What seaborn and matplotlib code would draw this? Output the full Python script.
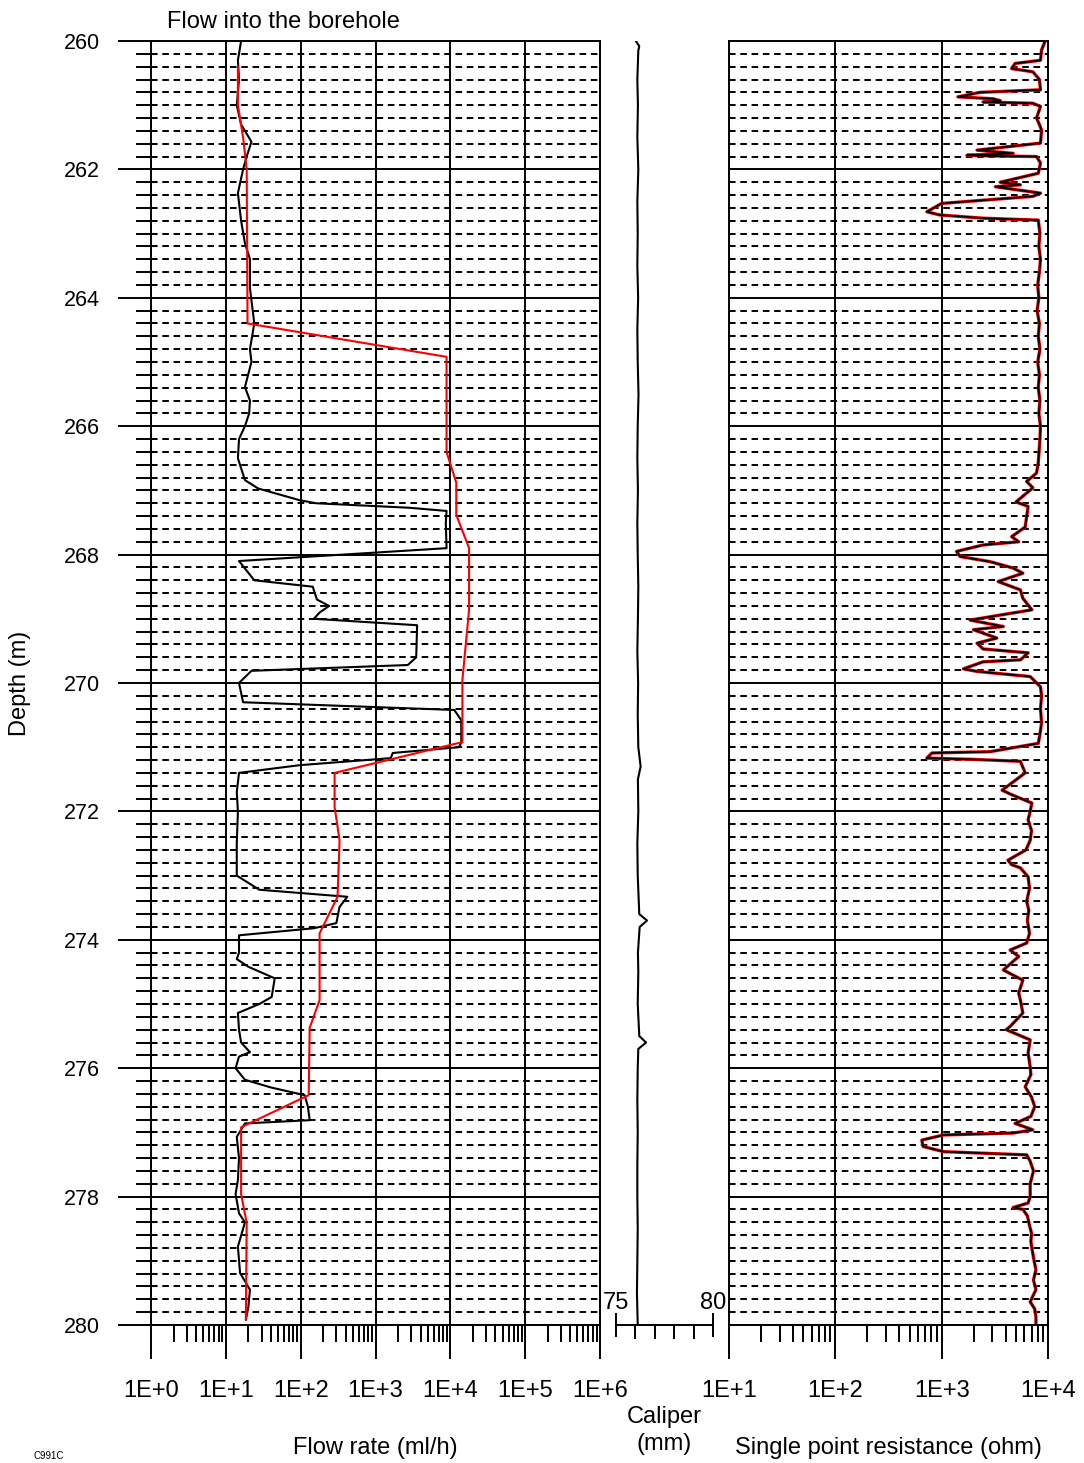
import numpy as np
import matplotlib
matplotlib.use('Agg')
import matplotlib.pyplot as plt
import matplotlib.ticker as mticker
import seaborn as sns

# --- measured flow into the borehole (black) ---
flow_depth = [260.0, 260.3, 260.6, 261.0, 261.3, 261.57, 261.8, 262.0, 262.37, 262.8,
              263.15, 263.4, 263.85, 264.4, 264.8, 265.0, 265.39, 265.6, 265.8, 266.0,
              266.2, 266.5, 266.84, 266.97, 267.15, 267.2, 267.27, 267.32, 267.5, 267.9,
              268.1, 268.4, 268.5, 268.7, 268.8, 268.9, 269.0, 269.1, 269.6, 269.72,
              269.81, 270.0, 270.3, 270.42, 270.58, 270.93, 271.0, 271.09, 271.17, 271.28,
              271.4, 271.7, 272.0, 272.5, 273.0, 273.22, 273.33, 273.49, 273.74, 273.82,
              273.93, 274.2, 274.3, 274.42, 274.6, 274.89, 275.0, 275.14, 275.4, 275.6,
              275.75, 275.82, 276.0, 276.18, 276.3, 276.42, 276.6, 276.81, 276.86, 277.07,
              277.4, 277.74, 277.96, 278.26, 278.4, 278.78, 279.19, 279.45, 279.72, 279.92]
flow_rate = [16, 14.5, 15, 14, 16, 22, 19, 17, 14.5, 16,
             18, 21, 21, 24, 21, 22, 18, 21, 20.5, 18,
             15, 14.5, 18, 27, 95, 160, 2800, 8900, 8700, 8900,
             15, 24, 145, 165, 240, 180, 150, 3600, 3500, 2700,
             22, 15, 17, 11300, 14000, 14000, 13000, 1700, 1600, 97,
             15, 14, 14.5, 14, 14, 28, 420, 330, 300, 150,
             15, 15, 14, 20, 45, 41, 28, 14.5, 15, 16,
             21, 15, 13.5, 18, 40, 113, 125, 132, 18, 14,
             15, 14.5, 13.5, 15, 18, 14.5, 15.5, 21, 20, 18.5]

# --- modelled flow (red) ---
model_depth = [260.4, 261.0, 261.5, 262.0, 264.4, 264.92, 266.4, 266.88, 267.38, 267.9,
               268.86, 269.95, 270.92, 271.4, 271.93, 272.45, 273.33, 273.9, 274.94, 275.37,
               276.42, 276.92, 277.96, 278.41, 279.92]
model_rate = [14.5, 14.5, 17, 19, 19.5, 8900, 8900, 12000, 12000, 17800,
              17800, 14500, 14500, 284, 284, 331, 311, 179, 179, 132,
              128, 16, 16, 19, 18.5]

# --- caliper ---
cal_depth = [260.0, 260.08, 260.15, 260.6, 261.0, 261.5, 262.0, 262.5, 263.0, 263.5,
             264.0, 264.5, 265.0, 265.5, 266.0, 266.5, 267.0, 267.5, 268.0, 268.5,
             269.0, 269.5, 270.0, 270.5, 271.0, 271.3, 271.5, 272.0, 272.5, 273.0,
             273.6, 273.7, 273.8, 274.2, 274.5, 275.0, 275.5, 275.6, 275.7, 276.0,
             276.5, 277.0, 277.5, 278.0, 278.5, 279.0, 279.5, 280.0]
cal_mm = [76.02, 76.2, 76.15, 76.1, 76.13, 76.1, 76.15, 76.1, 76.12, 76.1,
          76.14, 76.1, 76.12, 76.16, 76.12, 76.1, 76.13, 76.1, 76.12, 76.15,
          76.13, 76.1, 76.14, 76.12, 76.15, 76.27, 76.13, 76.15, 76.1, 76.12,
          76.2, 76.6, 76.22, 76.13, 76.15, 76.12, 76.2, 76.55, 76.15, 76.12,
          76.1, 76.12, 76.1, 76.1, 76.12, 76.1, 76.08, 76.12]

# --- single point resistance ---
spr_depth = [260.0, 260.14, 260.3, 260.35, 260.43, 260.48, 260.6, 260.76, 260.8, 260.87,
             260.9, 260.93, 260.95, 260.97, 261.02, 261.2, 261.3, 261.39, 261.59, 261.7,
             261.75, 261.78, 261.79, 261.8, 261.9, 262.06, 262.2, 262.24, 262.27, 262.37,
             262.42, 262.53, 262.66, 262.71, 262.76, 262.79, 263.0, 263.2, 263.4, 263.6,
             263.8, 264.0, 264.2, 264.4, 264.6, 264.8, 265.0, 265.2, 265.4, 265.6,
             265.8, 266.0, 266.2, 266.57, 266.73, 266.86, 266.96, 267.18, 267.25, 267.57,
             267.72, 267.8, 267.85, 267.95, 268.03, 268.11, 268.21, 268.29, 268.42, 268.55,
             268.68, 268.86, 269.02, 269.12, 269.17, 269.3, 269.38, 269.47, 269.53, 269.64,
             269.67, 269.78, 269.82, 269.9, 270.06, 270.2, 270.4, 270.62, 270.8, 270.94,
             271.07, 271.09, 271.17, 271.19, 271.22, 271.4, 271.67, 271.74, 271.87, 272.0,
             272.13, 272.3, 272.45, 272.6, 272.76, 272.83, 272.88, 273.02, 273.2, 273.4,
             273.54, 273.7, 273.9, 274.05, 274.16, 274.26, 274.47, 274.63, 274.83, 274.94,
             275.14, 275.35, 275.4, 275.56, 275.76, 275.98, 276.1, 276.29, 276.45, 276.6,
             276.75, 276.86, 276.96, 277.01, 277.04, 277.12, 277.22, 277.3, 277.35, 277.45,
             277.6, 277.8, 278.0, 278.1, 278.17, 278.2, 278.3, 278.45, 278.57, 278.7,
             278.83, 279.0, 279.14, 279.3, 279.45, 279.55, 279.64, 279.75, 279.87, 280.0]
spr_ohm = [9400, 8700, 8500, 4900, 4550, 7200, 8300, 8500, 2300, 1420,
           3050, 3550, 2450, 7200, 8500, 7800, 8300, 8700, 8500, 2150,
           4700, 1730, 2850, 7800, 8500, 8100, 3550, 5500, 3200, 8500,
           7200, 1000, 725, 960, 2450, 8100, 8400, 8200, 8500, 8300,
           8000, 8200, 7900, 8300, 8100, 8400, 8000, 8300, 8100, 8400,
           8200, 8500, 8400, 8100, 7800, 6300, 7200, 5000, 6500, 6100,
           4550, 5300, 2450, 1380, 1490, 2850, 4700, 5800, 3400, 5500,
           5800, 7050, 1850, 3800, 1990, 3300, 2150, 2450, 6500, 5500,
           2450, 1600, 2150, 6800, 8500, 8700, 8500, 8700, 8400, 8100,
           2850, 810, 725, 1990, 5500, 6100, 3700, 4550, 7050, 6800,
           6500, 7000, 6800, 6200, 4200, 4550, 5500, 6500, 6700, 6300,
           6600, 6400, 6700, 6300, 4400, 5300, 3800, 5800, 5300, 5500,
           5800, 4400, 4050, 6800, 6500, 6800, 6900, 6100, 7000, 7500,
           6900, 4900, 7200, 4700, 1040, 650, 670, 1040, 6300, 6800,
           7300, 6800, 6800, 6500, 4700, 5800, 6400, 6700, 7000, 6900,
           7100, 7400, 7700, 7300, 7700, 7200, 6800, 7500, 7700, 7700]

depth_range = (280, 260)
flow_range = (1, 1e6)
cal_range = (75, 80)
cal_major = [75, 80]
cal_minor = [76, 77, 78, 79]
spr_range = (10, 1e4)

sns.set_theme(style='white')
plt.rcParams['font.family'] = ['Liberation Sans', 'DejaVu Sans']

W, H = 1084, 1463
fig = plt.figure(figsize=(W / 100, H / 100), dpi=100)


def box(x0, x1, y0=41, y1=1325):
    return [x0 / W, 1 - y1 / H, (x1 - x0) / W, (y1 - y0) / H]


LW = 1.4
FS = 17


def style_track(ax, xlim):
    ax.set_xscale('log')
    ax.set_xlim(*xlim)
    ax.set_ylim(*depth_range)
    ax.yaxis.set_major_locator(mticker.MultipleLocator(2))
    ax.yaxis.set_minor_locator(mticker.MultipleLocator(0.2))
    ax.xaxis.set_major_locator(mticker.LogLocator(base=10, numticks=20))
    ax.xaxis.set_minor_locator(mticker.LogLocator(base=10, subs=np.arange(2, 10), numticks=20))
    ax.xaxis.set_minor_formatter(mticker.NullFormatter())
    ax.xaxis.set_major_formatter(mticker.FuncFormatter(lambda v, p: f"1E+{int(round(np.log10(v)))}"))
    ax.grid(which='major', color='black', lw=LW, ls='-')
    ax.grid(which='minor', axis='y', color='black', lw=LW, ls=(0, (3.4, 2.4)))
    ax.grid(which='minor', axis='x', visible=False)
    for s in ax.spines.values():
        s.set_color('black')
        s.set_linewidth(LW)
    ax.tick_params(axis='x', which='major', bottom=True, direction='out', length=24.5,
                   width=LW, color='black', pad=15, labelsize=FS, labelcolor='black')
    ax.tick_params(axis='x', which='minor', bottom=True, direction='out', length=12,
                   width=LW, color='black')


ax_flow = fig.add_axes(box(151, 600))
ax_cal = fig.add_axes(box(616, 713))
ax_spr = fig.add_axes(box(729, 1048))

# flow track
style_track(ax_flow, flow_range)
sns.lineplot(x=flow_rate, y=flow_depth, sort=False, estimator=None, color='black', lw=1.5, ax=ax_flow)
sns.lineplot(x=model_rate, y=model_depth, sort=False, estimator=None, color='#ff0000', lw=1.5, ax=ax_flow)
ax_flow.set_ylim(*depth_range)
ax_flow.tick_params(axis='y', which='major', left=True, direction='out', length=24,
                    width=LW, color='black', pad=13, labelsize=15.5, labelcolor='black')
ax_flow.tick_params(axis='y', which='minor', left=True, direction='out', length=11,
                    width=LW, color='black')
ax_flow.set_xlabel('Flow rate (ml/h)', fontsize=FS, color='black')
ax_flow.xaxis.set_label_coords(0.5, -0.0875)
ax_flow.set_ylabel('')

# caliper track
sns.lineplot(x=cal_mm, y=cal_depth, sort=False, estimator=None, color='black', lw=1.5, ax=ax_cal)
ax_cal.set_xlim(*cal_range)
ax_cal.set_ylim(*depth_range)
ax_cal.grid(False)
for side in ['left', 'right', 'top']:
    ax_cal.spines[side].set_visible(False)
ax_cal.spines['bottom'].set_color('black')
ax_cal.spines['bottom'].set_linewidth(LW)
ax_cal.set_yticks([])
ax_cal.xaxis.set_major_locator(mticker.FixedLocator(cal_major))
ax_cal.xaxis.set_minor_locator(mticker.FixedLocator(cal_minor))
ax_cal.tick_params(axis='x', which='major', bottom=True, direction='inout', length=17,
                   width=LW, color='black', labelbottom=False)
ax_cal.tick_params(axis='x', which='minor', bottom=True, direction='out', length=10,
                   width=LW, color='black')
for v in cal_major:
    ax_cal.annotate(str(v), xy=(v, depth_range[0]), xytext=(0, 8), textcoords='offset points',
                    ha='center', va='bottom', fontsize=FS, color='black', annotation_clip=False)
ax_cal.set_xlabel('Caliper\n(mm)', fontsize=FS, color='black', linespacing=1.3)
ax_cal.xaxis.set_label_coords(0.5, -0.063)
ax_cal.set_ylabel('')

# resistance track
style_track(ax_spr, spr_range)
sns.lineplot(x=spr_ohm, y=spr_depth, sort=False, estimator=None, color='#ff0000', lw=2.4, ax=ax_spr)
sns.lineplot(x=spr_ohm, y=spr_depth, sort=False, estimator=None, color='black', lw=1.3, ax=ax_spr)
ax_spr.set_ylim(*depth_range)
ax_spr.tick_params(axis='y', which='both', left=False, labelleft=False)
ax_spr.set_xlabel('Single point resistance (ohm)', fontsize=FS, color='black')
ax_spr.xaxis.set_label_coords(0.5, -0.0875)
ax_spr.set_ylabel('')

fig.text(20 / W, 1 - 683 / H, 'Depth (m)', rotation=90, ha='center', va='center',
         fontsize=FS, color='black')
fig.text(167 / W, 1 - 27.5 / H, 'Flow into the borehole', ha='left', va='baseline',
         fontsize=FS, color='black')
fig.text(33 / W, 1 - 1461 / H, 'C991C', ha='left', va='bottom', fontsize=7, color='black')

fig.savefig('out.png', dpi=100, facecolor='white')
